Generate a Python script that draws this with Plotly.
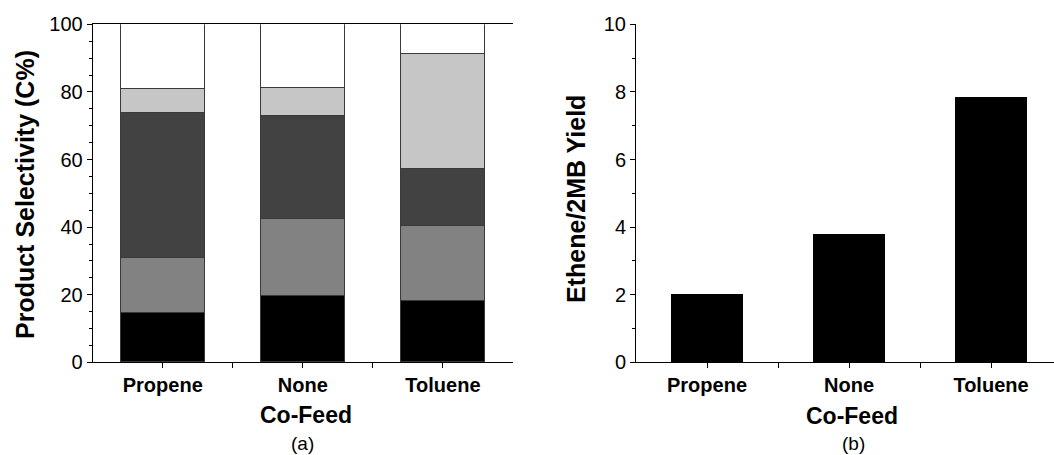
import plotly.graph_objects as go

# Co-feed categories shared by both panels
categories = ["Propene", "None", "Toluene"]

# Panel (a): product selectivity (C%) stacked from bottom to top
sel_black = [14.6, 19.4, 18.0]
sel_gray = [16.2, 22.8, 22.2]
sel_dark = [42.8, 30.6, 17.0]
sel_light = [7.1, 8.2, 33.8]
sel_white = [19.3, 19.0, 9.0]

# Panel (b): ethene / 2-methylbutane yield ratio
ethene_2mb = [1.97, 3.75, 7.81]

W, H = 1054, 455
FONT = "Arial, Liberation Sans, sans-serif"
xpos = list(range(len(categories)))


def px_x(p):
    return p / W


def px_y(p):
    return 1 - p / H


fig = go.Figure()

stack = [
    (sel_black, "#000000"),
    (sel_gray, "#828282"),
    (sel_dark, "#424242"),
    (sel_light, "#c6c6c6"),
    (sel_white, "#ffffff"),
]
for vals, color in stack:
    fig.add_trace(go.Bar(
        x=xpos, y=vals, width=0.6,
        marker=dict(color=color, line=dict(color="#3a3a3a", width=1)),
        xaxis="x", yaxis="y", showlegend=False,
    ))

fig.add_trace(go.Bar(
    x=xpos, y=ethene_2mb, width=0.5,
    marker=dict(color="#000000", line=dict(color="#000000", width=1)),
    xaxis="x2", yaxis="y2", showlegend=False,
))

ydom = [px_y(362.3), px_y(24.3)]
dom_a = [px_x(92.7), px_x(513.0)]
dom_b = [px_x(636.0), 1.0]
range_b_end = (W - 636.0) / 142.0 - 0.5

tickfont = dict(family=FONT, size=20, color="black")
catfont = dict(family=FONT, size=20, color="black", weight="bold")

base = dict(showgrid=False, zeroline=False, automargin=False,
            showline=True, linecolor="black", linewidth=1)

common_x = dict(
    tickmode="array", tickvals=xpos, ticktext=categories,
    tickfont=catfont, ticks="outside", ticklen=5, tickwidth=1, tickcolor="black",
    minor=dict(tickmode="array", tickvals=[0.5, 1.5], ticks="outside",
               ticklen=5, tickwidth=1, tickcolor="black"),
    **base,
)

fig.update_layout(
    width=W, height=H, autosize=False,
    margin=dict(l=0, r=0, t=0, b=0, pad=0),
    paper_bgcolor="white", plot_bgcolor="white",
    barmode="stack", bargap=0,
    font=dict(family=FONT, color="black"),
    xaxis=dict(domain=dom_a, range=[-0.5, 2.5], anchor="y", mirror=True, **common_x),
    yaxis=dict(
        domain=ydom, range=[0, 100], anchor="x",
        tickmode="linear", tick0=0, dtick=20, tickfont=tickfont,
        ticks="outside", ticklen=5, tickwidth=1, tickcolor="black",
        minor=dict(dtick=5, ticks="outside", ticklen=3, tickwidth=1, tickcolor="black"),
        **base,
    ),
    yaxis3=dict(
        domain=ydom, range=[0, 100], anchor="x", overlaying="y", side="right",
        tickmode="linear", tick0=0, dtick=20, showticklabels=False,
        ticks="inside", ticklen=5, tickwidth=1, tickcolor="black",
        minor=dict(dtick=5, ticks="inside", ticklen=3, tickwidth=1, tickcolor="black"),
        **base,
    ),
    xaxis2=dict(domain=dom_b, range=[-0.5, range_b_end], anchor="y2", **common_x),
    xaxis4=dict(
        domain=dom_b, range=[-0.5, range_b_end], anchor="y2", overlaying="x2", side="top",
        tickmode="array", tickvals=xpos, showticklabels=False,
        ticks="inside", ticklen=5, tickwidth=1, tickcolor="black",
        minor=dict(tickmode="array", tickvals=[0.5, 1.5], ticks="inside",
                   ticklen=3, tickwidth=1, tickcolor="black"),
        **base,
    ),
    yaxis2=dict(
        domain=ydom, range=[0, 10], anchor="x2",
        tickmode="linear", tick0=0, dtick=2, tickfont=tickfont,
        ticks="outside", ticklen=5, tickwidth=1, tickcolor="black",
        minor=dict(dtick=1, ticks="outside", ticklen=3, tickwidth=1, tickcolor="black"),
        **base,
    ),
)

title_font = dict(family=FONT, size=23, color="black", weight="bold")
ytitle_font = dict(family=FONT, size=25, color="black", weight="bold")
label_font = dict(family=FONT, size=19, color="black")

annotations = [
    dict(text="Co-Feed", x=px_x(306), y=px_y(415), font=title_font, yanchor="middle"),
    dict(text="(a)", x=px_x(302), y=0, font=label_font, yanchor="bottom"),
    dict(text="Co-Feed", x=px_x(852), y=px_y(430), font=title_font, yanchor="bottom"),
    dict(text="(b)", x=px_x(853), y=0, font=label_font, yanchor="bottom"),
    dict(text="Product Selectivity (C%)", x=px_x(25), y=px_y(195), font=ytitle_font,
         textangle=-90, yanchor="middle"),
    dict(text="Ethene/2MB Yield", x=px_x(576), y=px_y(199), font=ytitle_font,
         textangle=-90, yanchor="middle"),
]
for a in annotations:
    fig.add_annotation(xref="paper", yref="paper", xanchor="center", borderpad=0,
                       showarrow=False, **a)

fig.write_html("out.html")
